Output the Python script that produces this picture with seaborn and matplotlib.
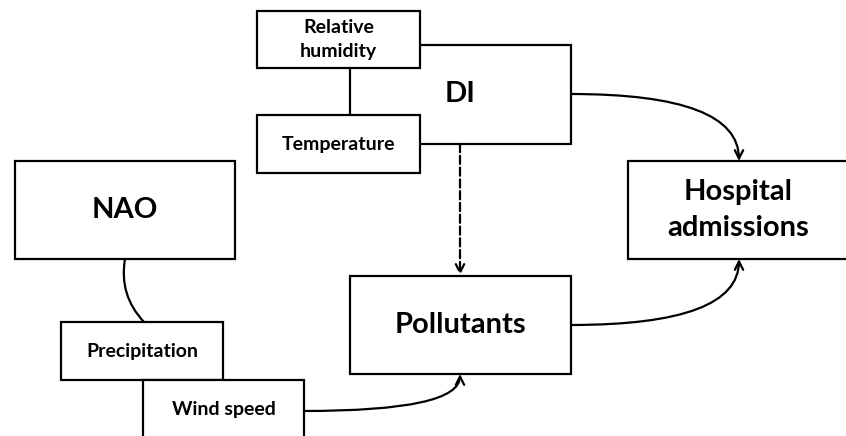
import matplotlib
matplotlib.use("Agg")
import matplotlib.pyplot as plt
from matplotlib.patches import Rectangle, FancyArrowPatch
import seaborn as sns

# Boxes: label, left, top, width, height, font size
box_labels = ["DI", "Relative\nhumidity", "Temperature", "NAO",
              "Precipitation", "Wind speed", "Pollutants", "Hospital\nadmissions"]
box_left = [350, 257, 257, 15, 61, 143, 350, 628]
box_top = [45, 11, 115, 161, 322, 380, 276, 161]
box_width = [221, 163, 163, 220, 162, 161, 221, 230]
box_height = [99, 57, 58, 98, 58, 70, 98, 98]
box_fontsize = [21, 14, 14, 21, 14, 14, 21, 21]

# Links: start point, end point, connection style, arrow, dashed
link_start = [(571, 94), (571, 325), (304, 411), (125, 259), (460, 144)]
link_end = [(739, 161), (739, 259), (460, 374), (144, 322), (460, 275)]
link_style = ["angle3,angleA=0,angleB=90", "angle3,angleA=0,angleB=90",
              "angle3,angleA=0,angleB=90", "arc3,rad=0.25", "arc3,rad=0"]
link_arrow = [True, True, True, False, True]
link_dashed = [False, False, False, False, True]

sns.set_theme(style="white")
plt.rcParams['font.family'] = ['Lato', 'DejaVu Sans']

fig = plt.figure(figsize=(8.46, 4.36), dpi=100)
ax = fig.add_axes([0, 0, 1, 1])
ax.set_xlim(0, 846)
ax.set_ylim(436, 0)
ax.axis("off")

# Boxes (drawn in order so small boxes sit on top of DI)
for i, label in enumerate(box_labels):
    rect = Rectangle((box_left[i], box_top[i]), box_width[i], box_height[i],
                     facecolor="white", edgecolor="black", linewidth=1.6,
                     zorder=2 + i)
    ax.add_patch(rect)
    cx = box_left[i] + box_width[i] / 2
    cy = box_top[i] + box_height[i] / 2
    if label == "Wind speed":
        cy = 409
    if label == "Hospital\nadmissions":
        cx = 738
    ax.text(cx, cy, label, ha="center", va="center", fontsize=box_fontsize[i],
            fontweight="bold", color="black", linespacing=1.5, zorder=2 + i)

# Links
for i in range(len(link_start)):
    arrow = FancyArrowPatch(link_start[i], link_end[i],
                            connectionstyle=link_style[i],
                            arrowstyle="->,head_length=0.5,head_width=0.25" if link_arrow[i] else "-",
                            mutation_scale=12, linewidth=1.6, color="black",
                            linestyle="--" if link_dashed[i] else "-",
                            shrinkA=0, shrinkB=0, zorder=20)
    ax.add_patch(arrow)

plt.savefig("out.png", dpi=100, facecolor="white")
